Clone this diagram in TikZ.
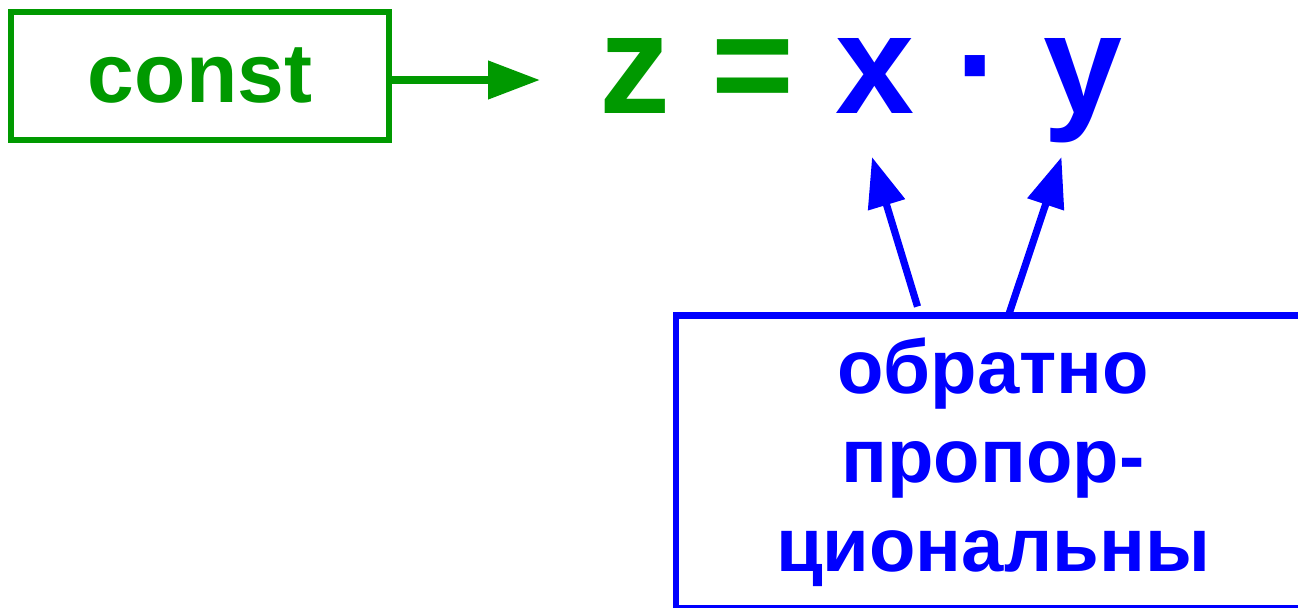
\documentclass[tikz,border=0pt]{standalone}
\usepackage{fontspec}
\setmainfont{Liberation Sans}
\usetikzlibrary{arrows.meta}
\definecolor{cgreen}{RGB}{0,153,0}
\definecolor{cblue}{RGB}{0,0,255}
\begin{document}
\begin{tikzpicture}[x=0.5pt,y=-0.5pt,
  gbox/.style={draw=cgreen, line width=2.85pt, minimum width=189pt, minimum height=64pt,
    inner sep=0pt, outer sep=0pt, text=cgreen, font=\bfseries\fontsize{42pt}{50pt}\selectfont},
  eqg/.style={anchor=base, inner sep=0pt, text=cgreen, font=\bfseries\fontsize{71pt}{85pt}\selectfont},
  eqb/.style={eqg, text=cblue},
  bbox/.style={draw=cblue, line width=3.1pt, minimum width=317pt, minimum height=146.5pt,
    inner sep=0pt, outer sep=0pt, text=cblue, align=center,
    font=\bfseries\fontsize{38pt}{44.5pt}\selectfont},
  garrow/.style={draw=cgreen, line width=3.8pt, -{Triangle[length=26pt,width=18.5pt]}},
  barrow/.style={draw=cblue, line width=3.6pt, -{Triangle[length=25pt,width=18.5pt]}}]
\useasboundingbox (0,0) rectangle (1298,607);
\clip (0,0) rectangle (1298,607);
% const box
\node[gbox] (constbox) at (200,76) {const};
% equation
\node[eqg] (z) at (634.5,113) {z};
\node[eqg] (eq) at (753,113) {=};
\node[eqb] (x) at (874.5,113) {x};
\node[eqb] (dot) at (979,113) {·};
\node[eqb] (y) at (1082.5,113) {y};
% blue box
\node[bbox] (tbox) at (993,462) {обратно\\пропор-\\циональны};
% connectors
\coordinate (gtip) at (540,80);
\draw[garrow] (constbox.east |- gtip) -- (gtip);
\coordinate (t1) at (917.5,306.5);
\coordinate (h1) at (872,157);
\coordinate (t2) at (1009,314);
\coordinate (h2) at (1061.5,157);
\draw[barrow] (t1) -- (h1);
\draw[barrow] (t2) -- (h2);
\end{tikzpicture}
\end{document}
